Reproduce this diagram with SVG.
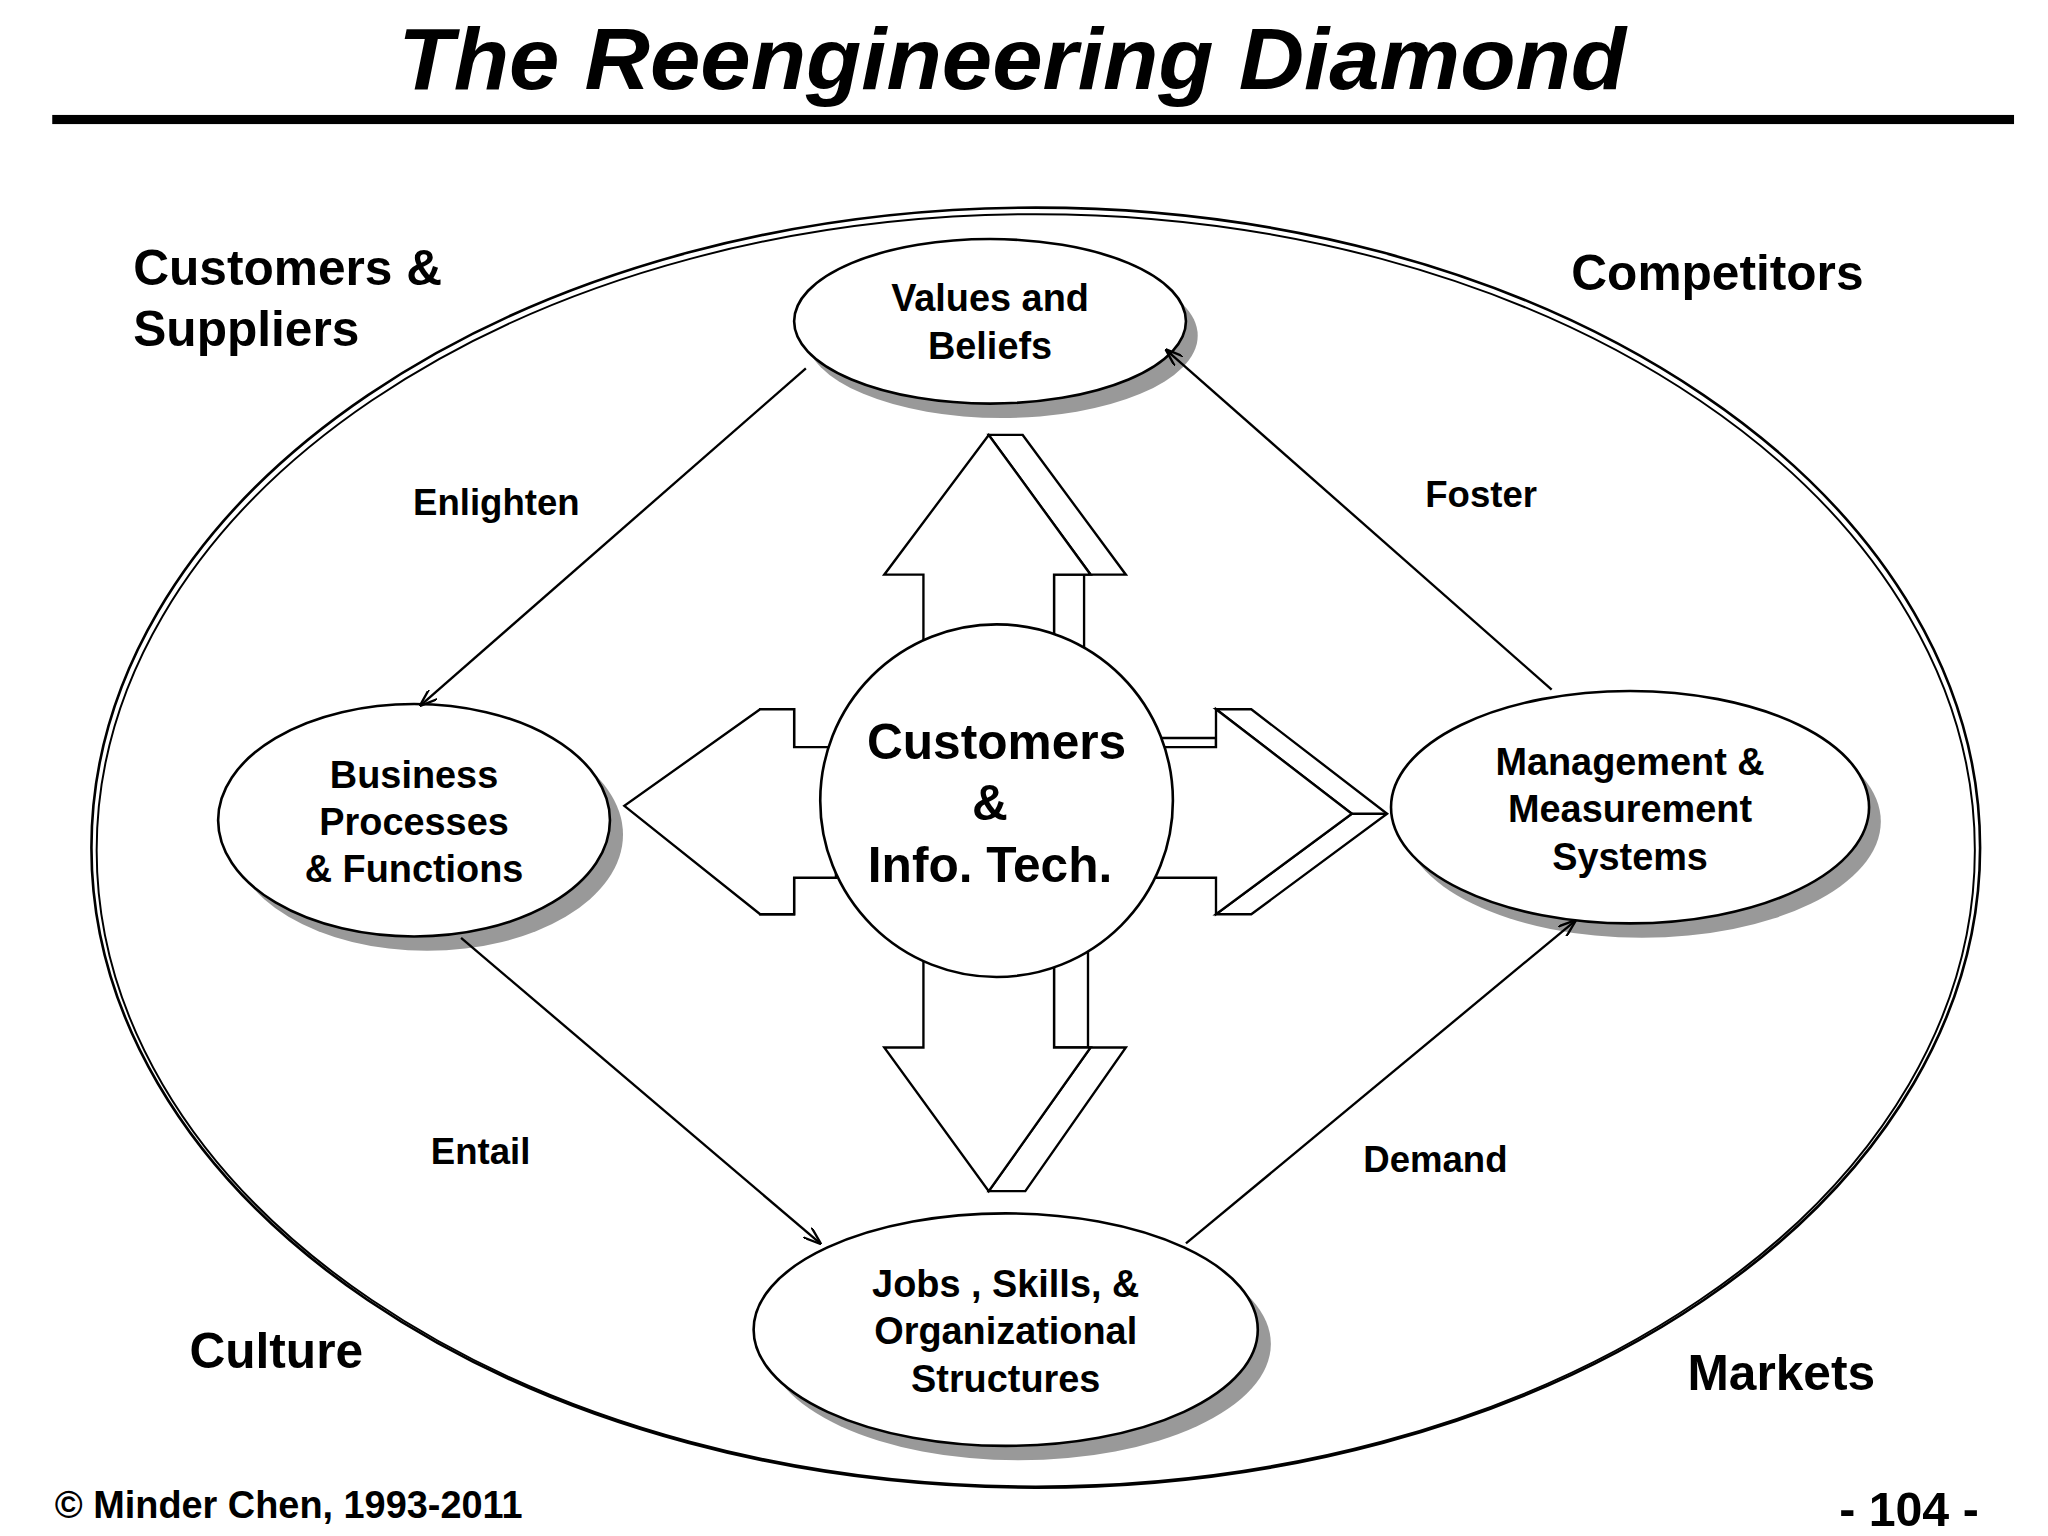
<svg xmlns="http://www.w3.org/2000/svg" width="2048" height="1536" viewBox="0 0 2048 1536">
<style>
text{font-family:"Liberation Sans",Arial,sans-serif;font-weight:bold;fill:#000}
.n{font-size:29px;text-anchor:middle}
.l{font-size:28px;text-anchor:middle}
.c{font-size:38px}
.e{fill:#fff;stroke:#000;stroke-width:2}
.s{fill:#999}
.a{fill:#fff;stroke:#000;stroke-width:1.8;stroke-linejoin:miter}
.k{stroke:#000;stroke-width:1.8;fill:none;marker-end:url(#ah)}
</style>
<defs><marker id="ah" markerWidth="14" markerHeight="10" refX="13" refY="5" orient="auto" markerUnits="userSpaceOnUse"><path d="M0,0 L14,5 L0,10" fill="none" stroke="#000" stroke-width="1.8"/></marker></defs>
<rect width="2048" height="1536" fill="#fff"/>
<g transform="scale(1.30612)">
<text x="775" y="68" style="font-size:66px;font-style:italic;text-anchor:middle" textLength="940" lengthAdjust="spacingAndGlyphs">The Reengineering Diamond</text>
<rect x="40" y="88" width="1502" height="7" fill="#000"/>
<ellipse cx="793" cy="649" rx="723" ry="490" fill="none" stroke="#000" stroke-width="2"/>
<ellipse cx="793" cy="651" rx="719" ry="487" fill="none" stroke="#000" stroke-width="1.5"/>
<text class="c" x="102" y="218">Customers &amp;</text>
<text class="c" x="102" y="265">Suppliers</text>
<text class="c" x="1203" y="222">Competitors</text>
<text class="c" x="145" y="1047">Culture</text>
<text class="c" x="1292" y="1064">Markets</text>
<g id="arrows">
<polygon class="a" points="757,333 783,333 862,440 830,440 830,500 807,500 807,440 835,440"/>
<polygon class="a" points="707,500 707,440 677,440 757,333 835,440 807,440 807,500"/>
<polygon class="a" points="807,725 833,725 833,802 862,802 785,912 757,912 835,802 807,802"/>
<polygon class="a" points="707,725 707,802 677,802 757,912 835,802 807,802 807,725"/>
<rect class="a" x="582" y="543" width="26" height="29"/>
<rect class="a" x="582" y="672" width="26" height="28"/>
<polygon class="a" points="640,572 608,572 608,543 582,543 478,617 582,700 608,700 608,672 640,672"/>
<polygon class="a" points="931,543 958,543 1062,623 958,700 931,700 1035,623"/>
<polygon class="a" points="885,565 931,565 931,572 885,572"/>
<polygon class="a" points="885,572 931,572 931,543 1035,623 931,700 931,672 885,672"/>
<line x1="1035" y1="623" x2="1062" y2="623" stroke="#000" stroke-width="1.8"/>
</g>
<g id="center">
<circle class="e" cx="763" cy="613" r="135"/>
<text class="n" x="763" y="581" style="font-size:38px">Customers</text>
<text class="n" x="758" y="628" style="font-size:38px">&amp;</text>
<text class="n" x="758" y="675" style="font-size:38px">Info. Tech.</text>
</g>
<g id="values">
<ellipse class="s" cx="767" cy="257" rx="150" ry="63"/>
<ellipse class="e" cx="758" cy="246" rx="150" ry="63"/>
<text class="n" x="758" y="238">Values and</text>
<text class="n" x="758" y="275">Beliefs</text>
</g>
<g id="business">
<ellipse class="s" cx="327" cy="639" rx="150" ry="89"/>
<ellipse class="e" cx="317" cy="628" rx="150" ry="89"/>
<text class="n" x="317" y="603">Business</text>
<text class="n" x="317" y="639">Processes</text>
<text class="n" x="317" y="675">&amp; Functions</text>
</g>
<g id="management">
<ellipse class="s" cx="1257" cy="629" rx="183" ry="89"/>
<ellipse class="e" cx="1248" cy="618" rx="183" ry="89"/>
<text class="n" x="1248" y="593">Management &amp;</text>
<text class="n" x="1248" y="629">Measurement</text>
<text class="n" x="1248" y="666">Systems</text>
</g>
<g id="jobs">
<ellipse class="s" cx="780" cy="1029" rx="193" ry="89"/>
<ellipse class="e" cx="770" cy="1018" rx="193" ry="89"/>
<text class="n" x="770" y="993">Jobs , Skills, &amp;</text>
<text class="n" x="770" y="1029">Organizational</text>
<text class="n" x="770" y="1066">Structures</text>
</g>
<g id="connectors">
<line class="k" x1="617" y1="282" x2="322" y2="540"/>
<line class="k" x1="1188" y1="528" x2="893" y2="268"/>
<line class="k" x1="353" y1="718" x2="628" y2="952"/>
<line class="k" x1="908" y1="952" x2="1206" y2="705"/>
<text class="l" x="380" y="394">Enlighten</text>
<text class="l" x="1134" y="388">Foster</text>
<text class="l" x="368" y="891">Entail</text>
<text class="l" x="1099" y="897">Demand</text>
</g>
<text x="42" y="1162" style="font-size:29px">© Minder Chen, 1993-2011</text>
<text x="1515" y="1168" style="font-size:37px;text-anchor:end">- 104 -</text>
</g>
</svg>
